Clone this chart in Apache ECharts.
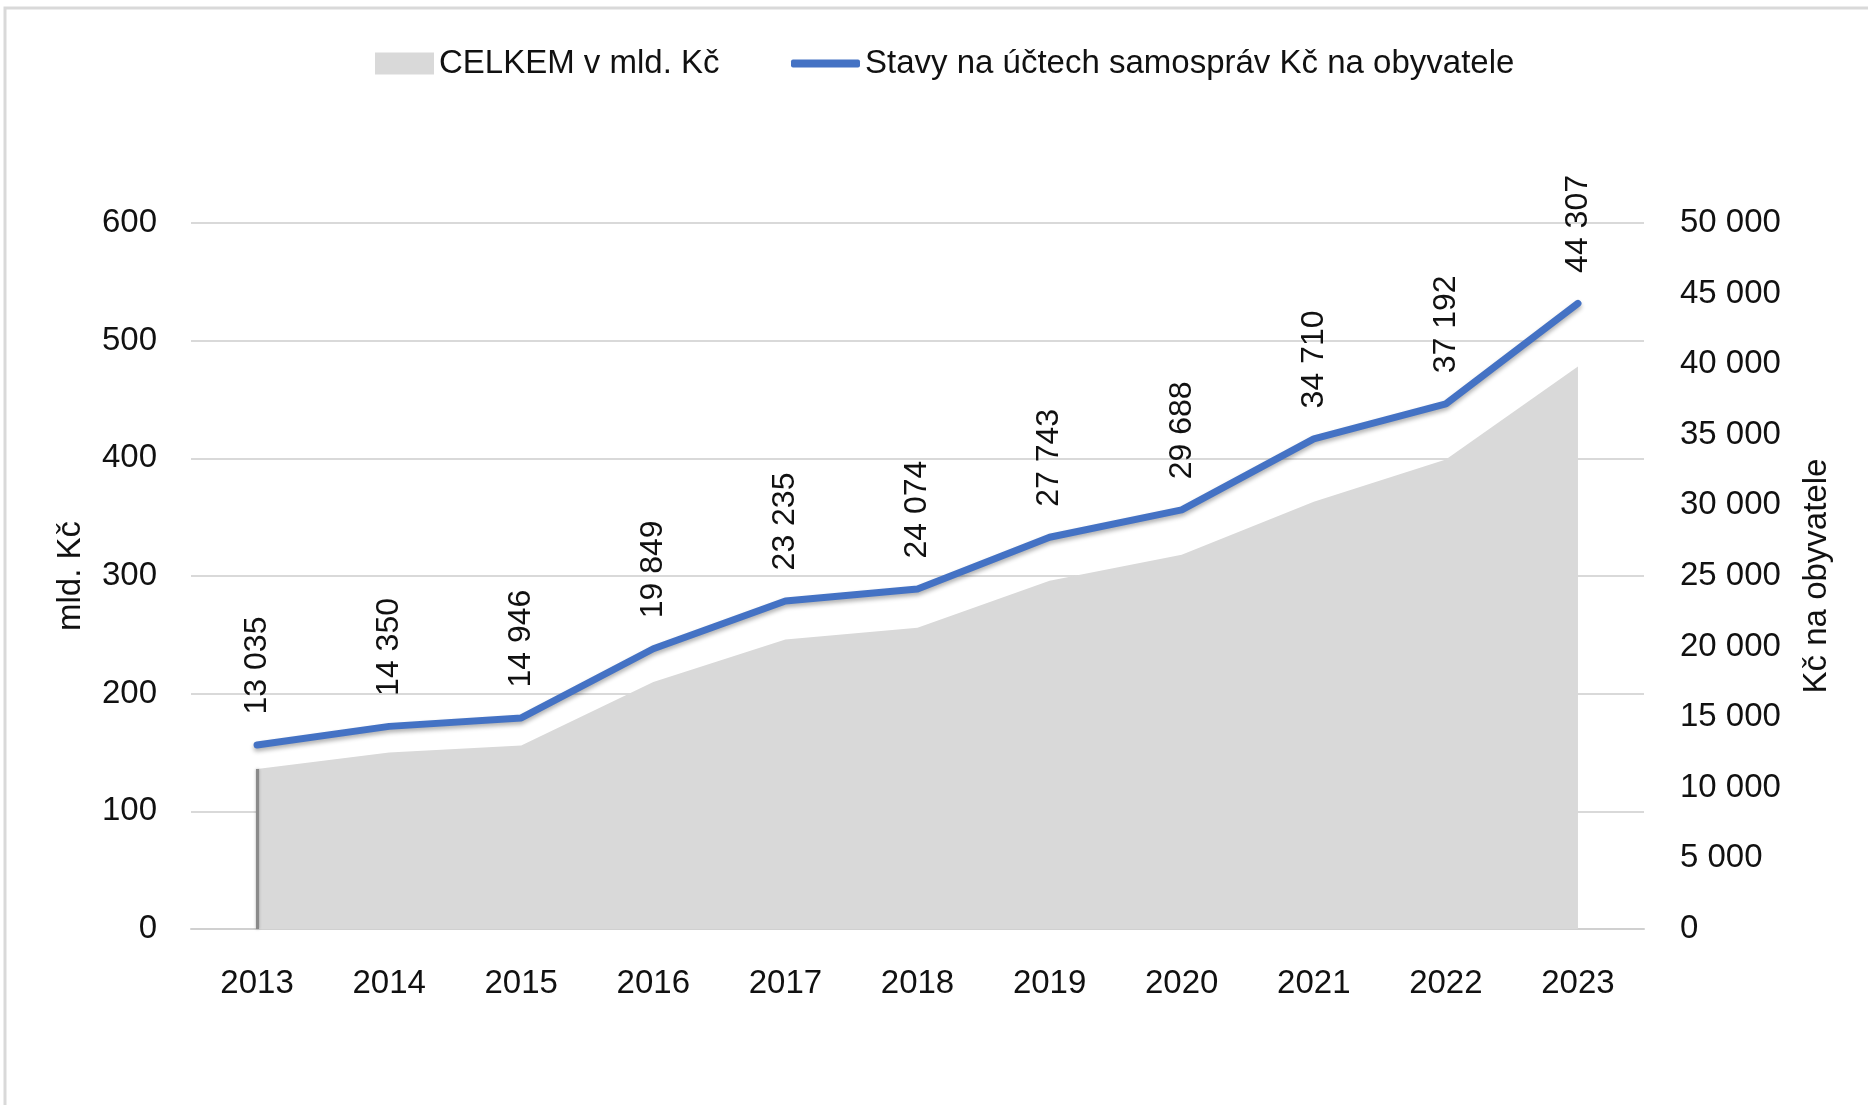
<!DOCTYPE html>
<html>
<head>
<meta charset="utf-8">
<script src="https://cdn.jsdelivr.net/npm/echarts@6/dist/echarts.min.js"></script>
<style>
    html, body {margin: 0; padding: 0; background: #fff;}
    #main {width: 1868px; height: 1105px;}
</style>
</head>
<body>
<div id="main"></div>
<script>
// roky
var years = ['2013', '2014', '2015', '2016', '2017', '2018', '2019', '2020', '2021', '2022', '2023'];
// CELKEM v mld. Kč
var totalBn = [136, 150, 156, 210, 246, 256, 296, 318, 363, 399, 478];
// Stavy na účtech samospráv Kč na obyvatele
var perCapita = [13035, 14350, 14946, 19849, 23235, 24074, 27743, 29688, 34710, 37192, 44307];

var areaName = 'CELKEM v mld. Kč';
var lineName = 'Stavy na účtech samospráv Kč na obyvatele';

var font = 'Liberation Sans';

//mezera jako oddělovač tisíců
function fmt(n) {
    return String(n).replace(/\B(?=(\d{3})+(?!\d))/g, ' ');
}

var option = {
    backgroundColor: '#fff',
    textStyle: {fontFamily: font},
    graphic: [{
        type: 'rect',
        shape: {x: 5, y: 8, width: 1900, height: 1200},
        style: {fill: 'none', stroke: '#d9d9d9', lineWidth: 3},
        silent: true
    }],
    legend: [{
        left: 370,
        top: 42,
        icon: 'rect',
        itemWidth: 59,
        itemHeight: 22,
        data: [areaName],
        textStyle: {fontFamily: font, fontSize: 33, color: '#111'}
    }, {
        left: 786,
        top: 42,
        icon: 'roundRect',
        itemWidth: 69,
        itemHeight: 8,
        data: [lineName],
        textStyle: {fontFamily: font, fontSize: 33, color: '#111'}
    }],
    grid: {left: 191, right: 224, top: 223, bottom: 176},
    xAxis: {
        type: 'category',
        data: years,
        axisLine: {lineStyle: {color: '#d0d0d0', width: 2}},
        axisTick: {length: 12, lineStyle: {color: '#d0d0d0', width: 2}},
        axisLabel: {margin: 38, fontSize: 33, color: '#111', fontFamily: font}
    },
    yAxis: [{
        type: 'value',
        min: 0,
        max: 600,
        interval: 100,
        name: 'mld. Kč',
        nameLocation: 'middle',
        nameRotate: 90,
        nameGap: 104,
        nameTextStyle: {fontSize: 33, color: '#111', fontFamily: font},
        axisLine: {show: false},
        axisTick: {show: false},
        axisLabel: {margin: 34, fontSize: 33, color: '#111', fontFamily: font},
        splitLine: {lineStyle: {color: '#d9d9d9', width: 2}}
    }, {
        type: 'value',
        min: 0,
        max: 50000,
        interval: 5000,
        name: 'Kč na obyvatele',
        nameLocation: 'middle',
        nameRotate: 90,
        nameGap: 156,
        nameTextStyle: {fontSize: 33, color: '#111', fontFamily: font},
        axisLine: {show: false},
        axisTick: {show: false},
        splitLine: {show: false},
        axisLabel: {
            margin: 36, fontSize: 33, color: '#111', fontFamily: font,
            formatter: function (v) {
                return fmt(v);
            }
        }
    }],
    series: [{
        name: areaName,
        type: 'line',
        data: totalBn,
        symbol: 'none',
        itemStyle: {color: '#d9d9d9'},
        lineStyle: {width: 0},
        areaStyle: {color: '#d9d9d9', opacity: 1},
        //tmavý stín na levé hraně plochy
        markLine: {
            silent: true,
            symbol: 'none',
            label: {show: false},
            lineStyle: {color: '#8a8a8a', width: 3, type: 'solid', shadowColor: 'rgba(0,0,0,0.3)', shadowBlur: 3},
            data: [[{xAxis: years[0], yAxis: 0}, {xAxis: years[0], yAxis: totalBn[0]}]]
        },
        z: 1
    }, {
        name: lineName,
        type: 'line',
        yAxisIndex: 1,
        data: perCapita,
        symbol: 'circle',
        symbolSize: 1,
        showSymbol: true,
        itemStyle: {color: '#4472c4'},
        lineStyle: {
            color: '#4472c4',
            width: 7,
            cap: 'round',
            join: 'round',
            shadowColor: 'rgba(0,0,0,0.3)',
            shadowBlur: 4,
            shadowOffsetY: 3
        },
        label: {
            show: true,
            position: 'top',
            distance: 30,
            rotate: 90,
            align: 'left',
            verticalAlign: 'middle',
            offset: [0, 4],
            fontSize: 32,
            color: '#111',
            fontFamily: font,
            formatter: function (p) {
                return fmt(p.value);
            }
        },
        labelLayout: {hideOverlap: false},
        z: 3
    }]
};

try {
    var myChart = echarts.init(document.getElementById('main'));
    myChart.setOption(option);
} catch (e) {
}
</script>
</body>
</html>
